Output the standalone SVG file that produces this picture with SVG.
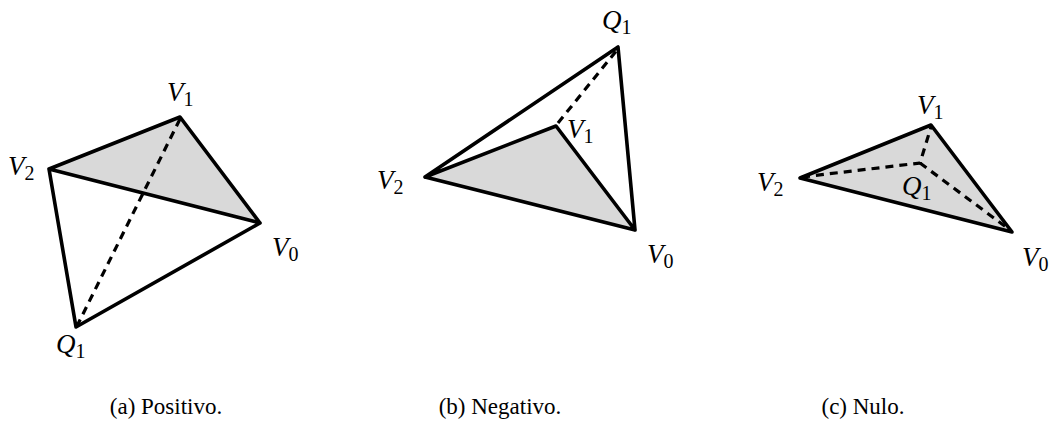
<svg xmlns="http://www.w3.org/2000/svg" width="1053" height="441" viewBox="0 0 1053 441">
<style>
.e{fill:none;stroke:#000;stroke-width:3.6;stroke-linejoin:round;stroke-linecap:round}
.f{fill:#d9d9d9;stroke:none}
.d{fill:none;stroke:#000;stroke-width:3.2;stroke-dasharray:8 6}
.l{font-family:"Liberation Serif",serif;font-size:27px;fill:#000}
.l .v{font-style:italic}
.l .s{font-size:20px}
.c{font-family:"Liberation Serif",serif;font-size:23px;fill:#000;text-anchor:middle}
</style>
<rect width="1053" height="441" fill="#fff"/>
<g id="fig-a">
<polygon class="f" points="180,117 49,169 260,223"/>
<g id="connectors-a">
<line class="d" x1="180" y1="119" x2="77" y2="326"/>
<polyline class="e" points="49,169 180,117 260,223 49,169 76,327 260,223"/>
</g>
<text class="l" x="167" y="101"><tspan class="v">V</tspan><tspan class="s" dy="5">1</tspan></text>
<text class="l" x="8" y="175"><tspan class="v">V</tspan><tspan class="s" dy="5">2</tspan></text>
<text class="l" x="272" y="256"><tspan class="v">V</tspan><tspan class="s" dy="5">0</tspan></text>
<text class="l" x="56" y="353"><tspan class="v">Q</tspan><tspan class="s" dy="5">1</tspan></text>
</g>
<g id="fig-b">
<polygon class="f" points="556,126 425,177 635,230"/>
<g id="connectors-b">
<line class="d" x1="558" y1="123" x2="617" y2="50"/>
<polyline class="e" points="425,177 618,47 635,230 425,177 556,126 635,230"/>
</g>
<text class="l" x="602" y="29"><tspan class="v">Q</tspan><tspan class="s" dy="5">1</tspan></text>
<text class="l" x="567" y="138"><tspan class="v">V</tspan><tspan class="s" dy="5">1</tspan></text>
<text class="l" x="377" y="189"><tspan class="v">V</tspan><tspan class="s" dy="5">2</tspan></text>
<text class="l" x="647" y="263"><tspan class="v">V</tspan><tspan class="s" dy="5">0</tspan></text>
</g>
<g id="fig-c">
<polygon class="f" points="931,125 800,178 1012,232"/>
<g id="connectors-c">
<polyline class="d" points="802,177 920,163 931,127"/>
<line class="d" x1="920" y1="163" x2="1010" y2="230"/>
<polygon class="e" points="931,125 800,178 1012,232"/>
</g>
<text class="l" x="917" y="114"><tspan class="v">V</tspan><tspan class="s" dy="5">1</tspan></text>
<text class="l" x="757" y="191"><tspan class="v">V</tspan><tspan class="s" dy="5">2</tspan></text>
<text class="l" x="902" y="195"><tspan class="v">Q</tspan><tspan class="s" dy="5">1</tspan></text>
<text class="l" x="1022" y="266"><tspan class="v">V</tspan><tspan class="s" dy="5">0</tspan></text>
</g>
<g id="captions">
<text class="c" x="166" y="414">(a) Positivo.</text>
<text class="c" x="500" y="414">(b) Negativo.</text>
<text class="c" x="863" y="414">(c) Nulo.</text>
</g>
</svg>
